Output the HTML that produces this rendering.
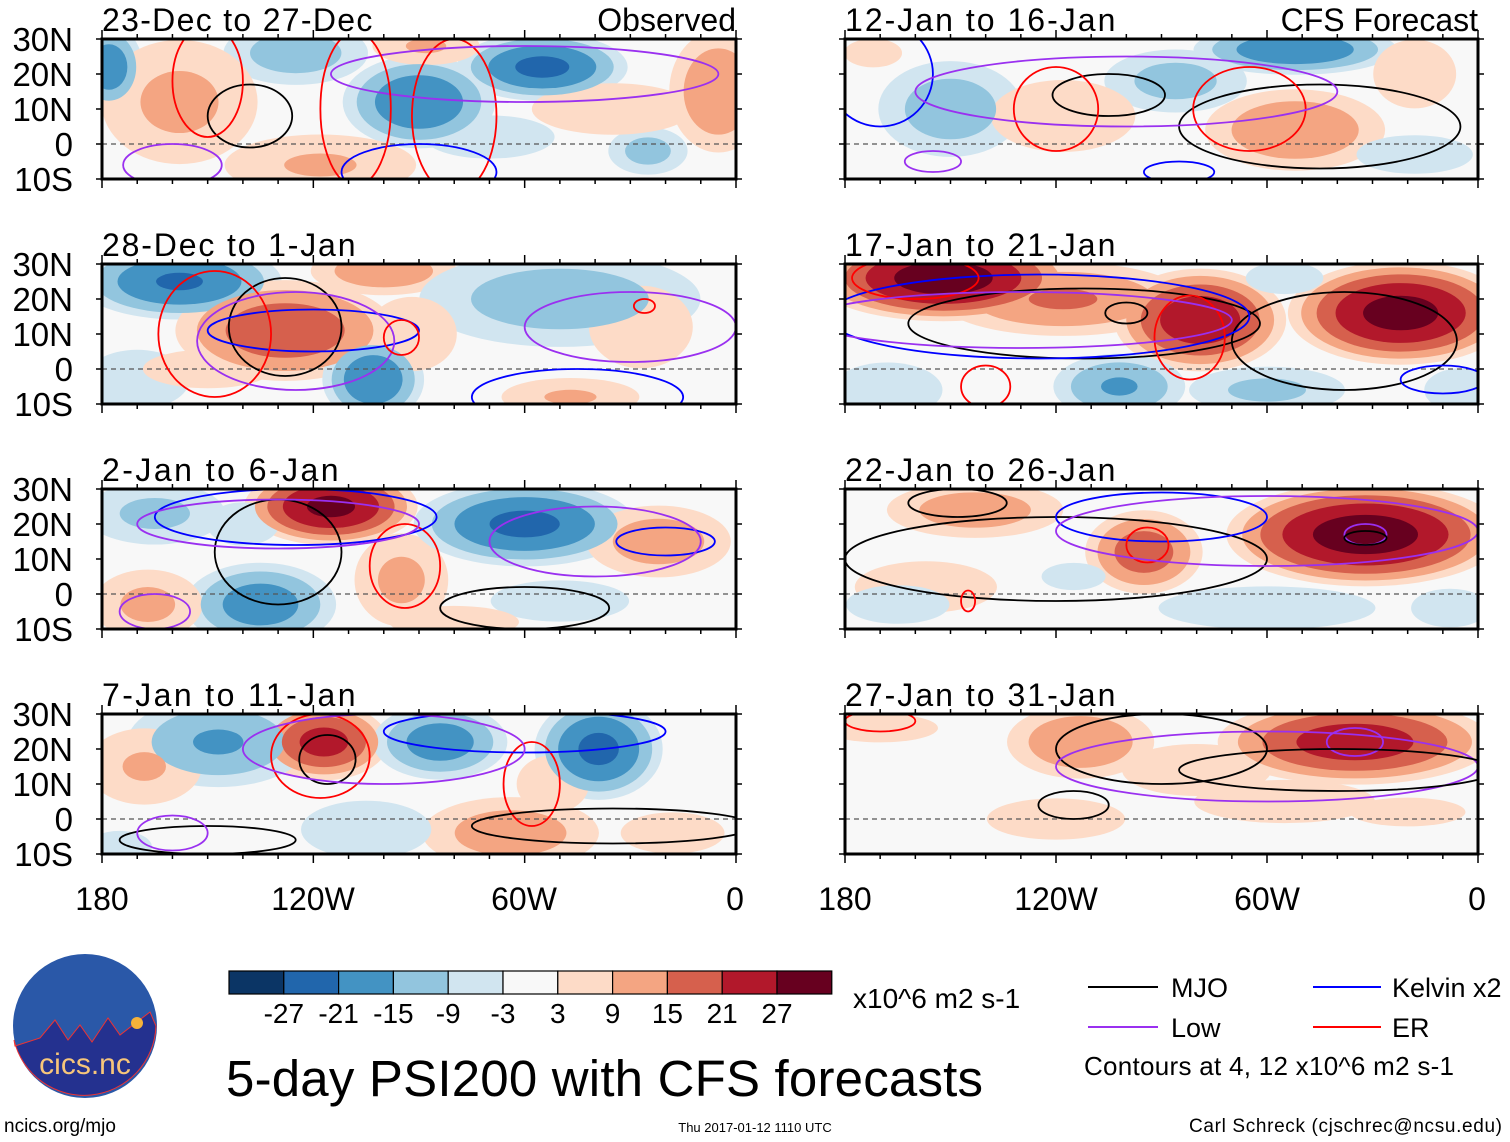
<!DOCTYPE html>
<html><head><meta charset="utf-8">
<style>
html,body{margin:0;padding:0;background:#fff;}
svg{display:block;font-family:"Liberation Sans",Arial,sans-serif;}
</style></head>
<body>
<svg id="fig" width="1510" height="1142" viewBox="0 0 1510 1142" xmlns="http://www.w3.org/2000/svg">
<g id="panels"></g>

<g font-size="32" text-anchor="middle" fill="#000">
<text x="102" y="910">180</text>
<text x="313" y="910">120W</text>
<text x="524" y="910">60W</text>
<text x="735" y="910">0</text>
<text x="845" y="910">180</text>
<text x="1056" y="910">120W</text>
<text x="1267" y="910">60W</text>
<text x="1477" y="910">0</text>
</g>

<g id="colorbar"></g>
<text x="853" y="1008" font-size="28">x10^6 m2 s-1</text>

<g>
<line x1="1088" y1="987" x2="1158" y2="987" stroke="#000" stroke-width="2"/>
<text x="1171" y="997" font-size="27">MJO</text>
<line x1="1313" y1="987" x2="1381" y2="987" stroke="#0000ff" stroke-width="2"/>
<text x="1392" y="997" font-size="27">Kelvin x2</text>
<line x1="1088" y1="1027" x2="1158" y2="1027" stroke="#9a30f0" stroke-width="2"/>
<text x="1171" y="1037" font-size="27">Low</text>
<line x1="1313" y1="1027" x2="1381" y2="1027" stroke="#ff0000" stroke-width="2"/>
<text x="1392" y="1037" font-size="27">ER</text>
<text x="1084" y="1075" font-size="26" textLength="370">Contours at 4, 12 x10^6 m2 s-1</text>
</g>

<text x="226" y="1096" font-size="51" textLength="757">5-day PSI200 with CFS forecasts</text>
<text x="4" y="1132" font-size="19">ncics.org/mjo</text>
<text x="755" y="1132" font-size="13" text-anchor="middle">Thu 2017-01-12 1110 UTC</text>
<text x="1502" y="1132" font-size="19" text-anchor="end" textLength="313">Carl Schreck (cjschrec@ncsu.edu)</text>

<g>
<circle cx="85" cy="1026" r="72" fill="#2a58a8"/>
<path d="M15,1046 L40,1038 L55,1020 L68,1040 L80,1025 L92,1042 L108,1018 L120,1035 L150,1012 L156,1026 A72,72 0 0 1 14,1040 Z" fill="#24318f" stroke="#e33" stroke-width="1"/>
<circle cx="137" cy="1023" r="6" fill="#f6b23a"/>
<text x="85" y="1074" font-size="30" fill="#f7c67a" text-anchor="middle">cics.nc</text>
</g>
</svg>
<script>
// ---- data ----
const panelTitles = ["23-Dec to 27-Dec","28-Dec to 1-Jan","2-Jan to 6-Jan","7-Jan to 11-Jan","12-Jan to 16-Jan","17-Jan to 21-Jan","22-Jan to 26-Jan","27-Jan to 31-Jan"];
const latTicks = ["30N","20N","10N","0","10S"];
const latTickValues = [30,20,10,0,-10];
const cbLabels = ["-27","-21","-15","-9","-3","3","9","15","21","27"];
const levels = [3,9,15,21,27];
// anomaly blobs per panel: [lonW, lat, value, halfWidthDeg, halfHeightDeg]
const blobs0 = [[178,22,-20,8,10],[125,26,-13,18,8],[90,12,-21,18,11],[55,22,-23,20,8],[25,-2,-12,10,6],[158,12,11,20,16],[5,15,15,12,15],[118,-6,10,25,8],[88,28,10,14,5],[70,2,-8,18,6],[35,10,6,25,8]];
const blobs1 = [[158,25,-22,24,9],[128,11,20,26,12],[100,28,14,18,6],[103,-3,-21,12,10],[50,20,-13,35,12],[27,12,7,15,12],[47,-8,10,18,5],[170,-3,-9,14,8],[92,10,9,12,10],[150,0,6,20,6]];
const blobs2 = [[115,25,29,20,9],[95,4,11,12,12],[60,20,-23,26,10],[165,23,-11,18,8],[135,-3,-19,18,10],[167,-3,11,14,9],[22,15,13,18,9],[140,20,-8,10,6],[50,-2,-7,20,6],[80,-8,6,20,5]];
const blobs3 = [[117,22,24,15,9],[147,22,-16,22,11],[84,22,-19,16,9],[39,20,-23,15,12],[64,-4,13,22,9],[168,15,10,15,10],[52,10,8,10,8],[105,-3,-8,18,8],[18,-4,7,15,6],[175,-8,-6,10,5]];
const blobs4 = [[150,10,-13,18,12],[52,27,-21,24,6],[86,18,-12,18,8],[52,4,15,22,10],[118,8,8,20,10],[18,20,7,12,10],[18,-3,-6,18,6],[172,26,5,10,5]];
const blobs5 = [[152,26,31,30,10],[79,14,26,20,12],[22,16,30,26,12],[118,20,16,30,9],[102,-5,-16,16,8],[60,-6,-11,20,6],[168,-6,-7,16,8],[5,-6,-8,10,6],[55,26,-6,12,5]];
const blobs6 = [[32,17,31,32,12],[95,12,19,14,10],[143,24,13,22,7],[157,2,6,22,8],[60,-4,-8,30,6],[165,-3,-6,16,6],[8,-4,-6,12,6],[115,5,-4,14,6]];
const blobs7 = [[35,22,25,32,10],[113,22,15,18,9],[80,14,9,20,7],[120,0,7,20,6],[55,5,8,25,6],[170,26,5,20,5],[20,2,5,20,5]];
const allBlobs = [blobs0,blobs1,blobs2,blobs3,blobs4,blobs5,blobs6,blobs7];
// contours per panel: [type, lonW, lat, halfWidthDeg, halfHeightDeg]
const cont0 = [["mjo",138,8,12,9],["er",150,18,10,16],["er",80,8,12,22],["low",160,-6,14,6],["low",60,20,55,8],["kelvin",90,-8,22,8],["er",108,10,10,22]];
const cont1 = [["mjo",128,12,16,14],["kelvin",120,11,30,6],["er",148,10,16,18],["low",125,8,28,14],["er",95,9,5,5],["kelvin",45,-8,30,8],["low",30,12,30,10],["er",26,18,3,2]];
const cont2 = [["mjo",130,12,18,15],["er",94,8,10,12],["kelvin",125,22,40,8],["low",165,-5,10,5],["mjo",60,-4,24,6],["kelvin",20,15,14,4],["low",40,15,30,10],["low",130,20,40,7]];
const cont3 = [["mjo",116,17,8,7],["er",118,18,14,12],["er",58,10,8,12],["mjo",150,-6,25,4],["low",160,-4,10,5],["kelvin",60,25,40,6],["low",100,20,40,10],["mjo",35,-2,40,5]];
const cont4 = [["mjo",105,14,16,6],["mjo",45,5,40,12],["er",65,10,16,12],["kelvin",170,20,15,15],["low",155,-5,8,3],["er",120,10,12,12],["low",100,15,60,10],["kelvin",85,-8,10,3]];
const cont5 = [["mjo",112,13,50,10],["mjo",38,8,32,14],["kelvin",125,15,60,12],["er",160,26,18,6],["er",82,9,10,12],["mjo",100,16,6,3],["low",130,14,60,8],["er",140,-5,7,6],["kelvin",10,-3,12,4]];
const cont6 = [["mjo",120,10,60,12],["mjo",148,26,14,4],["kelvin",90,22,30,7],["low",32,17,6,3],["mjo",32,16,6,2],["er",145,-2,2,3],["er",94,14,6,5],["low",60,18,60,10]];
const cont7 = [["mjo",115,4,10,4],["mjo",90,20,30,10],["low",35,22,8,4],["low",60,15,60,10],["mjo",40,14,45,6],["er",170,28,10,3]];
const allContours = [cont0,cont1,cont2,cont3,cont4,cont5,cont6,cont7];

// ---- layout ----
const posColors = ["#fddbc7","#f4a582","#d6604d","#b2182b","#67001f"];
const negColors = ["#d1e5f0","#92c5de","#4393c3","#2166ac","#0b3565"];
const lineColors = {mjo:"#000",kelvin:"#0000ff",low:"#9a30f0",er:"#ff0000"};
const NS = "http://www.w3.org/2000/svg";
const panelsG = document.getElementById("panels");
function mk(tag, attrs, parent){const e=document.createElementNS(NS,tag);for(const k in attrs)e.setAttribute(k,attrs[k]);parent.appendChild(e);return e;}

allBlobs.forEach((blobs,pi)=>{
  const col = pi<4?0:1, row = pi%4;
  const x0 = col===0?102:845, W = col===0?634:633;
  const y0 = 39 + row*225, H = 140;
  const xs = lw => x0 + (180-lw)/180*W;
  const ys = lat => y0 + (30-lat)/40*H;
  const sx = W/180, sy = H/40;
  const g = mk("g",{},panelsG);
  
  
  const clipId = "clip"+pi;
  const cp = mk("clipPath",{id:clipId},g);
  mk("rect",{x:x0,y:y0,width:W,height:H},cp);
  mk("rect",{x:x0,y:y0,width:W,height:H,fill:"#f8f8f8"},g);
  const inner = mk("g",{"clip-path":"url(#"+clipId+")"},g);
  levels.forEach((t,li)=>{
    blobs.forEach(b=>{
      const v=Math.abs(b[2]); if(v<=t) return;
      const f=Math.sqrt(1-t/v);
      const el=mk("ellipse",{cx:xs(b[0]),cy:ys(b[1]),rx:b[3]*sx*f*1.3,ry:b[4]*sy*f*1.3,fill:b[2]>0?posColors[li]:negColors[li]},inner);
      
      
    });
  });
  const eq=mk("line",{x1:x0,x2:x0+W,y1:ys(0),y2:ys(0),stroke:"#555","stroke-width":1.3,"stroke-dasharray":"5,4"},inner);
  
  
  allContours[pi].forEach(c=>{
    const el=mk("ellipse",{cx:xs(c[1]),cy:ys(c[2]),rx:c[3]*sx,ry:c[4]*sy,fill:"none",stroke:lineColors[c[0]],"stroke-width":1.8},inner);
    
    
  });
  const fr=mk("rect",{x:x0,y:y0,width:W,height:H,fill:"none",stroke:"#000","stroke-width":3},g);
  
  
  for(let lw=180;lw>=0;lw-=10){
    const L=(lw%60===0)?9:5;
    mk("line",{x1:xs(lw),x2:xs(lw),y1:y0-L,y2:y0,stroke:"#000","stroke-width":1.5},g);
    mk("line",{x1:xs(lw),x2:xs(lw),y1:y0+H,y2:y0+H+L,stroke:"#000","stroke-width":1.5},g);
  }
  latTickValues.forEach(lat=>{
    mk("line",{x1:x0-6,x2:x0,y1:ys(lat),y2:ys(lat),stroke:"#000","stroke-width":1.5},g);
    mk("line",{x1:x0+W,x2:x0+W+6,y1:ys(lat),y2:ys(lat),stroke:"#000","stroke-width":1.5},g);
  });
  if(col===0){
    latTickValues.forEach((lat,i)=>{
      const t=mk("text",{x:73,y:ys(lat)+12,"font-size":33,"text-anchor":"end"},g);
      t.textContent=latTicks[i];
      
      
    });
  }
  const tt=mk("text",{x:x0,y:y0-8,"font-size":32},g);
  tt.textContent=panelTitles[pi];
  tt.setAttribute('textLength', String(panelTitles[pi].length*16.9));
  
  
  if(pi===0||pi===4){
    const st=mk("text",{x:x0+W,y:y0-8,"font-size":32,"text-anchor":"end"},g);
    st.textContent=pi===0?"Observed":"CFS Forecast";
    
    
  }
});

const cb=document.getElementById("colorbar");
const cbColors=negColors.slice().reverse().concat(["#f8f8f8"]).concat(posColors);
const cbx=229, cbw=54.8;
cbColors.forEach((c,i)=>{
  const r=mk("rect",{x:cbx+i*cbw,y:971,width:cbw,height:23,fill:c,stroke:"#000","stroke-width":1.2},cb);
  
  
});
cbLabels.forEach((l,i)=>{
  const t=mk("text",{x:cbx+(i+1)*cbw,y:1023,"font-size":28,"text-anchor":"middle"},cb);
  t.textContent=l;
  
  
});
</script>
</body></html>
